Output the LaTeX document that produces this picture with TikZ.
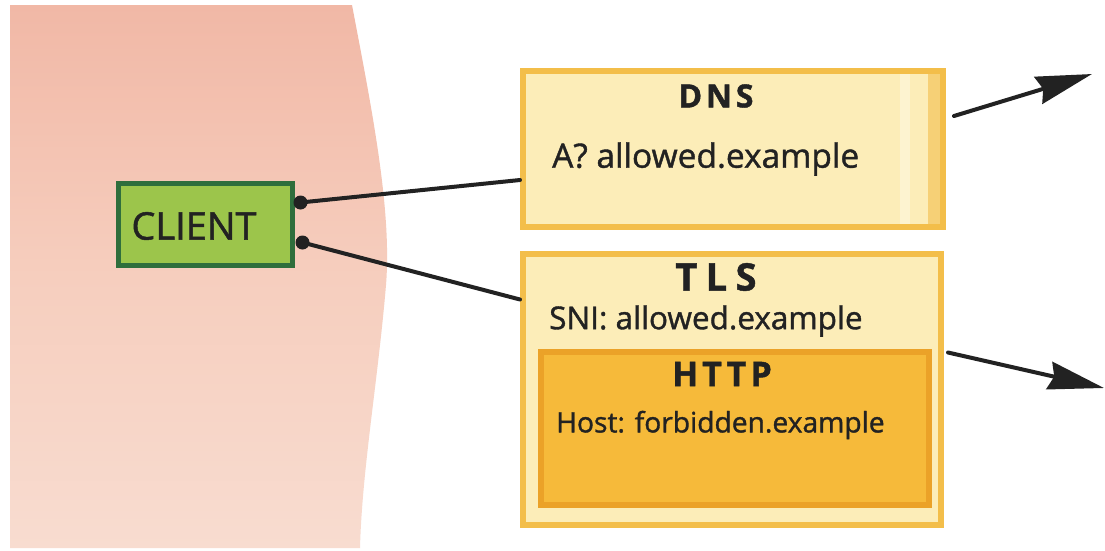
\documentclass[tikz,border=0pt]{standalone}
\usepackage{fontspec}
\setmainfont{Open Sans}[FakeBold=1.2]
\usetikzlibrary{arrows.meta,calc}
\definecolor{pinkA}{RGB}{241,184,166}
\definecolor{pinkB}{RGB}{248,220,208}
\definecolor{pinkC}{RGB}{246,206,190}
\definecolor{greenfill}{RGB}{156,197,75}
\definecolor{greenline}{RGB}{47,110,60}
\definecolor{paleyellow}{RGB}{252,237,184}
\definecolor{yellowline}{RGB}{243,190,74}
\definecolor{orangefill}{RGB}{246,186,58}
\definecolor{orangeline}{RGB}{235,162,40}
\definecolor{ink}{RGB}{34,34,34}
\tikzset{
  clientbox/.style={draw=greenline, fill=greenfill, line width=5pt, minimum width=174pt, minimum height=82pt, inner sep=0pt},
  msgbox/.style={draw=yellowline, fill=paleyellow, line width=6pt, inner sep=0pt},
  innerbox/.style={draw=orangeline, fill=orangefill, line width=6pt, inner sep=0pt},
  title/.style={text=ink, inner sep=0pt},
  body/.style={text=ink, inner sep=0pt, anchor=west},
  wire/.style={draw=ink, line width=4pt, line cap=round},
  arrowline/.style={draw=ink, line width=4pt, line cap=round, -{Stealth[length=56pt,width=28pt,inset=5pt]}},
  knob/.style={fill=ink, circle, inner sep=0pt, minimum size=14pt}
}
\begin{document}
\begin{tikzpicture}[x=1pt,y=-1pt]
\useasboundingbox (0,0) rectangle (1105,550);
\fill[white] (0,0) rectangle (1105,550);
% pink region
\shade[top color=pinkA, bottom color=pinkB, middle color=pinkC]
  (10,5) -- (352,5) .. controls (372,110) and (392,210) .. (386,285)
  .. controls (378,380) and (362,470) .. (360,548) -- (10,548) -- cycle;
% client
\node[clientbox] (client) at (205,224) {};
\node[font=\fontsize{38}{40}\selectfont, text=ink, inner sep=0pt] (clientlbl) at (194,226) {CLIENT};
% DNS box
\node[msgbox, minimum width=420pt, minimum height=156pt] (dns) at (733,149) {};
\fill[white, opacity=0.35] (900,74) rectangle (910,224);
\fill[yellowline, opacity=0.6] (928,74) rectangle (940,224);
\node[title, font=\fontsize{32}{36}\selectfont\bfseries\addfontfeatures{LetterSpace=12}] (dnstitle) at (716,96) {DNS};
\node[body, font=\fontsize{33.5}{36}\selectfont] (dnsq) at (552,159) {A? allowed.example};
% TLS box
\node[msgbox, minimum width=418pt, minimum height=271pt] (tls) at (732,389) {};
\node[title, font=\fontsize{38}{40}\selectfont\bfseries\addfontfeatures{LetterSpace=22}] (tlstitle) at (716,277) {TLS};
\node[body, font=\fontsize{31.5}{36}\selectfont] (sni) at (549,321) {SNI: allowed.example};
% HTTP box
\node[innerbox, minimum width=388pt, minimum height=153pt] (http) at (735,428) {};
\node[title, font=\fontsize{34}{36}\selectfont\bfseries\addfontfeatures{LetterSpace=12}] (httptitle) at (722,374) {HTTP};
\node[body, font=\fontsize{28.2}{34}\selectfont] (host) at (556,425) {Host: forbidden.example};
% connectors client -> boxes
\coordinate (c1) at ($(client.north east)+(6,22)$);
\coordinate (c2) at ($(client.north east)+(8,62)$);
\coordinate (d1) at ($(dns.north west)+(0,112)$);
\coordinate (t1) at ($(tls.north west)+(0,49)$);
\node[knob] (k1) at (c1) {};
\node[knob] (k2) at (c2) {};
\draw[wire] (k1.center) -- (d1);
\draw[wire] (k2.center) -- (t1);
% outgoing arrows
\coordinate (dout) at ($(dns.north east)+(8,48)$);
\coordinate (dend) at (1092,74);
\coordinate (tout) at ($(tls.north east)+(4,102)$);
\coordinate (tend) at (1104,388);
\draw[arrowline] (dout) -- (dend);
\draw[arrowline] (tout) -- (tend);
\end{tikzpicture}
\end{document}
